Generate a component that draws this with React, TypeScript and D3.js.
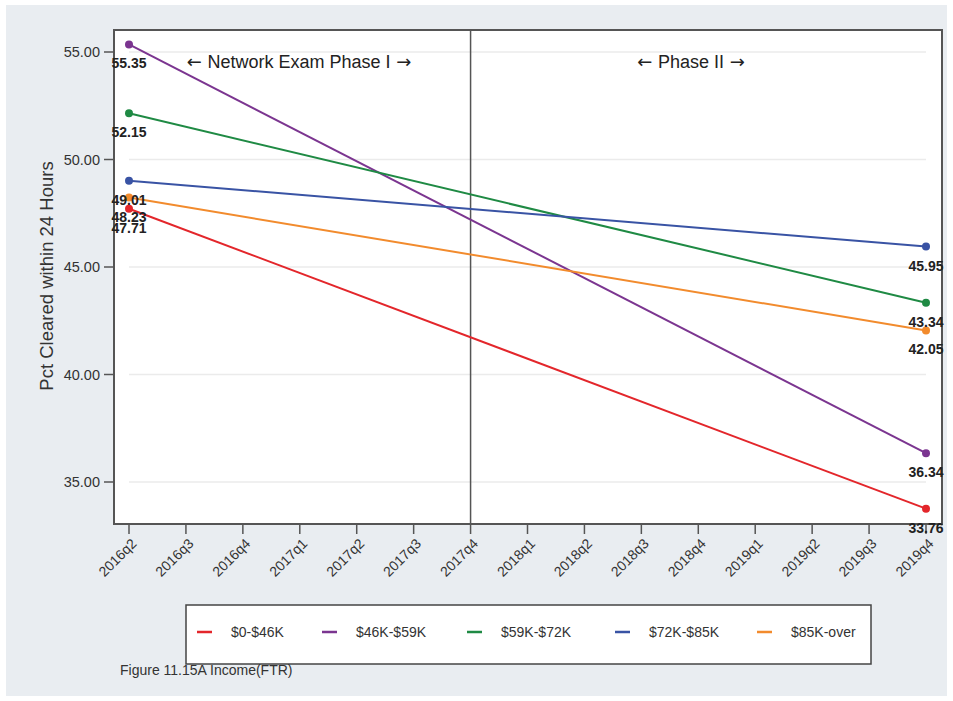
import React, { useEffect, useRef } from 'react';
import * as d3 from 'd3';

// quarters on the x axis
const quarters = [
  '2016q2', '2016q3', '2016q4',
  '2017q1', '2017q2', '2017q3', '2017q4',
  '2018q1', '2018q2', '2018q3', '2018q4',
  '2019q1', '2019q2', '2019q3', '2019q4',
];

const groups = ['$0-$46K', '$46K-$59K', '$59K-$72K', '$72K-$85K', '$85K-over'];
const colors = ['#e3262b', '#7b3590', '#1f8a44', '#3953a4', '#f28b2d'];
const startValues = [47.71, 55.35, 52.15, 49.01, 48.23];
const endValues = [33.76, 36.34, 43.34, 45.95, 42.05];
const yTicks = [35, 40, 45, 50, 55];
const phaseLabels = ['Network Exam Phase I', 'Phase II'];

const W = 953;
const H = 701;
const frame = { left: 114, top: 30, right: 942, bottom: 524 };
const FONT = '"Liberation Sans", Arial, sans-serif';
const ARROW_FONT = '"DejaVu Sans", sans-serif';

const App: React.FC = () => {
  const svgRef = useRef<SVGSVGElement>(null);

  useEffect(() => {
    if (!svgRef.current) return;
    const svg = d3.select(svgRef.current);
    svg.selectAll('*').remove();

    svg.append('rect').attr('x', 0).attr('y', 0).attr('width', W).attr('height', H).attr('fill', '#fff');
    svg.append('rect').attr('x', 6).attr('y', 5).attr('width', W - 12).attr('height', H - 10).attr('fill', '#e9edf1');

    svg.append('rect')
      .attr('x', frame.left).attr('y', frame.top)
      .attr('width', frame.right - frame.left).attr('height', frame.bottom - frame.top)
      .attr('fill', '#fff').attr('stroke', '#555').attr('stroke-width', 2);

    const x = d3.scalePoint().domain(quarters).range([129, 926]);
    const y = d3.scaleLinear().domain([55, 45]).range([52, 267]);

    // grid
    svg.append('g').selectAll('line').data(yTicks).enter().append('line')
      .attr('x1', x(quarters[0])!).attr('x2', x(quarters[quarters.length - 1])!)
      .attr('y1', d => y(d)).attr('y2', d => y(d))
      .attr('stroke', '#ebebeb').attr('stroke-width', 1.5);

    // y axis
    const yAxis = svg.append('g');
    yAxis.selectAll('line').data(yTicks).enter().append('line')
      .attr('x1', frame.left - 10).attr('x2', frame.left)
      .attr('y1', d => y(d)).attr('y2', d => y(d))
      .attr('stroke', '#555').attr('stroke-width', 1.5);
    yAxis.selectAll('text').data(yTicks).enter().append('text')
      .attr('x', frame.left - 14).attr('y', d => y(d))
      .attr('dy', '0.36em').attr('text-anchor', 'end')
      .attr('font-family', FONT).attr('font-size', 14.5).attr('fill', '#333')
      .text(d => d3.format('.2f')(d));

    svg.append('text')
      .attr('transform', `translate(53,276) rotate(-90)`)
      .attr('text-anchor', 'middle')
      .attr('font-family', FONT).attr('font-size', 18.5).attr('fill', '#333')
      .text('Pct Cleared within 24 Hours');

    // x axis
    const xAxis = svg.append('g');
    xAxis.selectAll('line').data(quarters).enter().append('line')
      .attr('x1', d => x(d)!).attr('x2', d => x(d)!)
      .attr('y1', frame.bottom).attr('y2', frame.bottom + 10)
      .attr('stroke', '#555').attr('stroke-width', 1.5);
    xAxis.selectAll('text').data(quarters).enter().append('text')
      .attr('transform', d => `translate(${x(d)! + 5},${frame.bottom + 17}) rotate(-45)`)
      .attr('text-anchor', 'end').attr('dy', '0.35em')
      .attr('font-family', FONT).attr('font-size', 14).attr('fill', '#333')
      .text(d => d);

    // phase divider
    svg.append('line')
      .attr('x1', x('2017q4')!).attr('x2', x('2017q4')!)
      .attr('y1', frame.top).attr('y2', frame.bottom)
      .attr('stroke', '#555').attr('stroke-width', 1.5);

    const phaseX = [299, 691];
    phaseLabels.forEach((lab, i) => {
      const t = svg.append('text')
        .attr('x', phaseX[i]).attr('y', 68)
        .attr('text-anchor', 'middle')
        .attr('font-family', FONT).attr('font-size', 18).attr('fill', '#222');
      t.append('tspan').attr('font-family', ARROW_FONT).text('← ');
      t.append('tspan').text(lab);
      t.append('tspan').attr('font-family', ARROW_FONT).text(' →');
    });

    // series
    const x0 = x(quarters[0])!;
    const x1 = x(quarters[quarters.length - 1])!;
    groups.forEach((g, i) => {
      const pts: [number, number][] = [[x0, y(startValues[i])], [x1, y(endValues[i])]];
      svg.append('path')
        .attr('d', d3.line()(pts)!)
        .attr('fill', 'none').attr('stroke', colors[i]).attr('stroke-width', 2);
      pts.forEach(p => {
        svg.append('circle').attr('cx', p[0]).attr('cy', p[1]).attr('r', 4).attr('fill', colors[i]);
      });
    });

    // value labels
    groups.forEach((g, i) => {
      [[x0, startValues[i]], [x1, endValues[i]]].forEach(([px, v]) => {
        svg.append('text')
          .attr('x', px).attr('y', y(v) + 24)
          .attr('text-anchor', 'middle')
          .attr('font-family', FONT).attr('font-size', 14).attr('font-weight', 'bold').attr('fill', '#222')
          .text(d3.format('.2f')(v));
      });
    });

    // legend
    svg.append('rect')
      .attr('x', 186).attr('y', 605).attr('width', 685).attr('height', 59)
      .attr('fill', '#fff').attr('stroke', '#444').attr('stroke-width', 1.5);
    const legX = [197, 322, 467, 615, 757];
    groups.forEach((g, i) => {
      svg.append('line')
        .attr('x1', legX[i]).attr('x2', legX[i] + 15)
        .attr('y1', 632).attr('y2', 632)
        .attr('stroke', colors[i]).attr('stroke-width', 2.5);
      svg.append('text')
        .attr('x', legX[i] + 34).attr('y', 632).attr('dy', '0.36em')
        .attr('font-family', FONT).attr('font-size', 14).attr('fill', '#333')
        .text(g);
    });

    svg.append('text')
      .attr('x', 120).attr('y', 670).attr('dy', '0.36em')
      .attr('font-family', FONT).attr('font-size', 14).attr('fill', '#333')
      .text('Figure 11.15A Income(FTR)');
  }, []);

  return (
    <svg ref={svgRef} width={W} height={H}
      style={{ position: 'absolute', left: 0, top: 0, display: 'block' }} />
  );
};

export default App;
